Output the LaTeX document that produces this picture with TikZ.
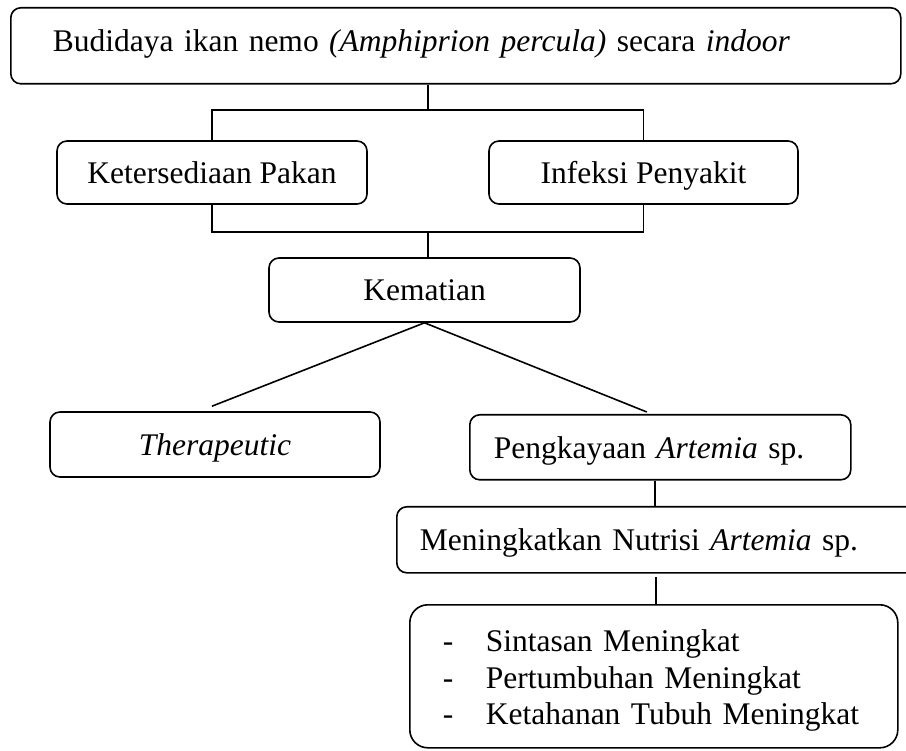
\documentclass[tikz,border=0pt]{standalone}
\usepackage{fontspec}
\setmainfont{Liberation Serif}

\begin{document}
\begin{tikzpicture}[x=1pt,y=-1pt,line width=1.6pt,
 every node/.style={font=\fontsize{31.5}{36.5}\selectfont},
 box/.style={draw,rounded corners=10pt,inner sep=0pt,align=center,text height=26pt,text depth=4pt},
 wide/.style={box,anchor=north west,align=left}]
\clip (0,0) rectangle (906,751);
\node[wide,minimum width=890pt,minimum height=76pt,text width=806pt,text height=24pt,text depth=12pt] (top) at (10,7) {Budidaya ikan nemo \textit{(Amphiprion percula)} secara \textit{indoor}};
\node[box,minimum width=310pt,minimum height=63pt] (ket) at (212,172.5) {Ketersediaan Pakan};
\node[box,minimum width=309pt,minimum height=63pt] (inf) at (643.5,172.5) {Infeksi Penyakit};
\node[box,minimum width=311pt,minimum height=64pt] (kem) at (424.5,290) {Kematian};
\node[box,minimum width=330pt,minimum height=65pt] (ther) at (215,444.5) {\textit{Therapeutic}};
\node[wide,minimum width=381pt,minimum height=65pt,text width=333pt] (peng) at (469,414) {Pengkayaan \textit{Artemia} sp.};
\node[wide,minimum width=520pt,minimum height=66pt,text width=474pt] (nutr) at (396,506) {Meningkatkan Nutrisi \textit{Artemia} sp.};
\node[wide,rounded corners=18pt,minimum width=488pt,minimum height=143pt,text width=422pt,text height=31pt,text depth={}] (fin) at (409,604)
 {\makebox[43pt][l]{-}Sintasan Meningkat\\\makebox[43pt][l]{-}Pertumbuhan Meningkat\\\makebox[43pt][l]{-}Ketahanan Tubuh Meningkat};
\coordinate (busup) at (428,110);
\coordinate (busdn) at (428,232);
\coordinate (nutrdrop) at (656,577);
\draw (busup |- top.south) -- (busup);
\draw (ket.north) |- (busup) -| (inf.north);
\draw (ket.south) |- (busdn) -| (inf.south);
\draw (busdn) -- (busdn |- kem.north);
\draw (kem.south) -- ([xshift=-3pt,yshift=5pt]ther.north);
\draw (kem.south) -- ([xshift=-13.5pt,yshift=2pt]peng.north);
\draw ([xshift=-5.5pt]peng.south) -- ([xshift=-5.5pt]peng.south |- nutr.north);
\draw (nutrdrop) -- (nutrdrop |- fin.north);
\end{tikzpicture}
\end{document}
